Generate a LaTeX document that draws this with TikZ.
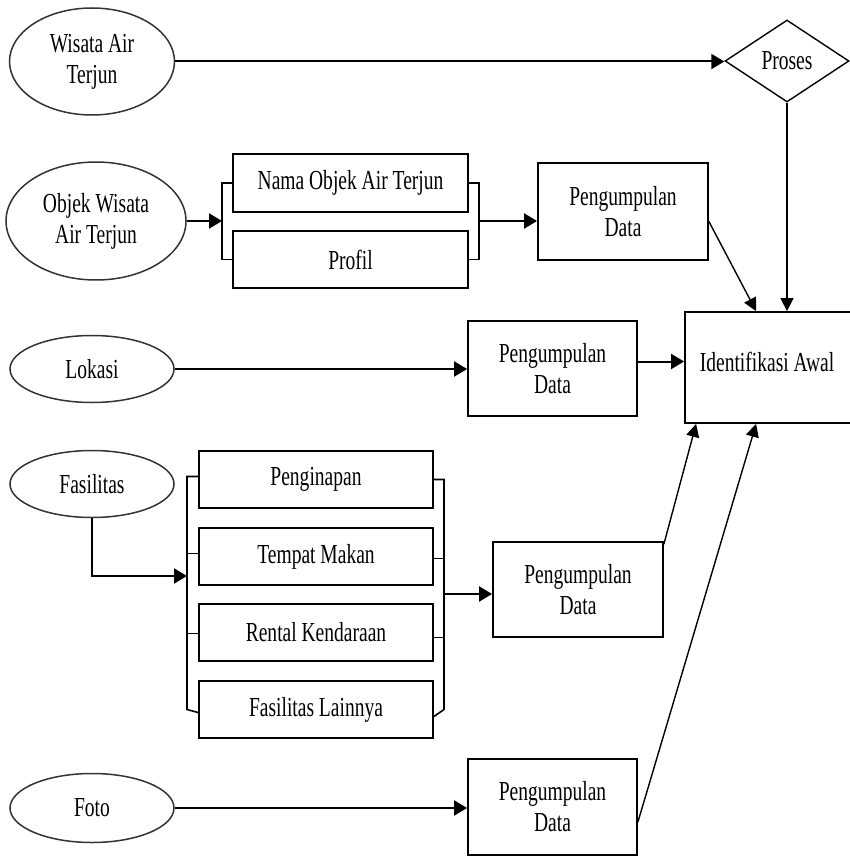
\documentclass[tikz,border=0pt]{standalone}
\usepackage{fontspec}
\setmainfont{Liberation Serif}[FakeStretch=0.71]
\usetikzlibrary{shapes.geometric,arrows.meta}
\begin{document}
\begin{tikzpicture}[x=1pt,y=-1pt,
  txt/.style={font=\fontsize{27.5}{31}\selectfont, align=center},
  box/.style={txt, draw, line width=1.8pt, inner sep=0pt},
  oval/.style={txt, ellipse, draw=black!80, line width=1.5pt, inner sep=0pt},
  dia/.style={txt, diamond, draw, line width=1.4pt, inner sep=0pt, aspect=1.5},
  arr/.style={-{Triangle[length=13pt,width=15pt]}, line width=2pt},
  tarr/.style={-{Triangle[length=13pt,width=13pt]}, line width=1.4pt},
  brk/.style={line width=1.6pt}]
\useasboundingbox (0,0) rectangle (849,856);
% row 1
\node[oval, minimum width=165pt, minimum height=107pt] (wis) at (92,61.5) {Wisata Air\\Terjun};
\node[dia, minimum width=124pt, minimum height=82pt] (pro) at (787,61) {Proses};
% identifikasi
\node[box, minimum width=168pt, minimum height=111pt] (id) at (769,367.5) {};
\node[txt, yshift=6pt] (idt) at ([xshift=-2pt]id.center) {Identifikasi Awal};
% row 2
\node[oval, minimum width=180pt, minimum height=118pt] (obj) at (96,221) {Objek Wisata\\Air Terjun};
\node[box, minimum width=235pt, minimum height=58pt] (nama) at (350.5,183) {Nama Objek Air Terjun};
\node[box, minimum width=235pt, minimum height=57pt] (prof) at (350.5,259.5) {Profil};
\node[box, minimum width=170pt, minimum height=97pt] (pd1) at (623,211.5) {Pengumpulan\\Data};
\coordinate (b1l) at (222,221);
\coordinate (b1r) at (479,221);
\draw[brk] (nama.west) -| (b1l |- nama.west) -- (b1l |- prof.west) -- (prof.west);
\draw[brk] (nama.east) -| (b1r |- nama.east) -- (b1r |- prof.east) -- (prof.east);
% row 3
\node[oval, minimum width=164pt, minimum height=67pt] (lok) at (92,369) {Lokasi};
\node[box, minimum width=169pt, minimum height=95pt] (pd2) at (552.5,368.5) {Pengumpulan\\Data};
% row 4
\node[oval, minimum width=164pt, minimum height=67pt] (fas) at (92,484) {Fasilitas};
\node[box, minimum width=234pt, minimum height=57pt] (pen) at (316,479.5) {Penginapan};
\node[box, minimum width=234pt, minimum height=57pt] (tem) at (316,556.5) {Tempat Makan};
\node[box, minimum width=234pt, minimum height=57pt] (ren) at (316,632.5) {Rental Kendaraan};
\node[box, minimum width=234pt, minimum height=57pt] (lai) at (316,709.5) {Fasilitas Lainnya};
\node[box, minimum width=170pt, minimum height=95pt] (pd3) at (578,589.5) {Pengumpulan\\Data};
\coordinate (b2l) at (187,576);
\coordinate (b2r) at (444,594);
\draw[brk] ([yshift=3pt]pen.west) -| (b2l |- lai.west) -- ([yshift=-3pt]lai.west);
\draw[brk] ([yshift=3pt]tem.west) -- ([yshift=3pt]tem.west -| b2l);
\draw[brk] ([yshift=-1pt]ren.west) -- ([yshift=-1pt]ren.west -| b2l);
\draw[brk] (pen.east) -| (b2r |- lai.east) -- ([yshift=-7pt]lai.east);
\draw[brk] ([yshift=-2pt]tem.east) -- ([yshift=-2pt]tem.east -| b2r);
\draw[brk] ([yshift=-5pt]ren.east) -- ([yshift=-5pt]ren.east -| b2r);
% row 5
\node[oval, minimum width=164pt, minimum height=69pt] (fot) at (92,808) {Foto};
\node[box, minimum width=169pt, minimum height=96pt] (pd4) at (552.5,807) {Pengumpulan\\Data};
% connectors
\draw[arr] (wis.east) -- (wis.east -| pro.west);
\draw[tarr] (pro.south) -- (pro.south |- id.north);
\draw[arr] (obj.east) -- (b1l);
\draw[arr] (b1r) -- (b1r -| pd1.west);
\draw[tarr] ([yshift=-10pt]pd1.east) -- ([xshift=72pt]id.north west);
\draw[arr] (lok.east) -- (lok.east -| pd2.west);
\draw[arr] ([yshift=7pt]pd2.east) -- ([yshift=7pt]pd2.east -| id.west);
\draw[arr] (fas.south) |- (b2l);
\draw[arr] (b2r) -- (b2r -| pd3.west);
\draw[tarr] ([yshift=-3pt]pd3.north east) -- ([xshift=12pt]id.south west);
\draw[arr] (fot.east) -- (fot.east -| pd4.west);
\draw[tarr] ([yshift=-15pt]pd4.east) -- ([xshift=72pt]id.south west);
\end{tikzpicture}
\end{document}
